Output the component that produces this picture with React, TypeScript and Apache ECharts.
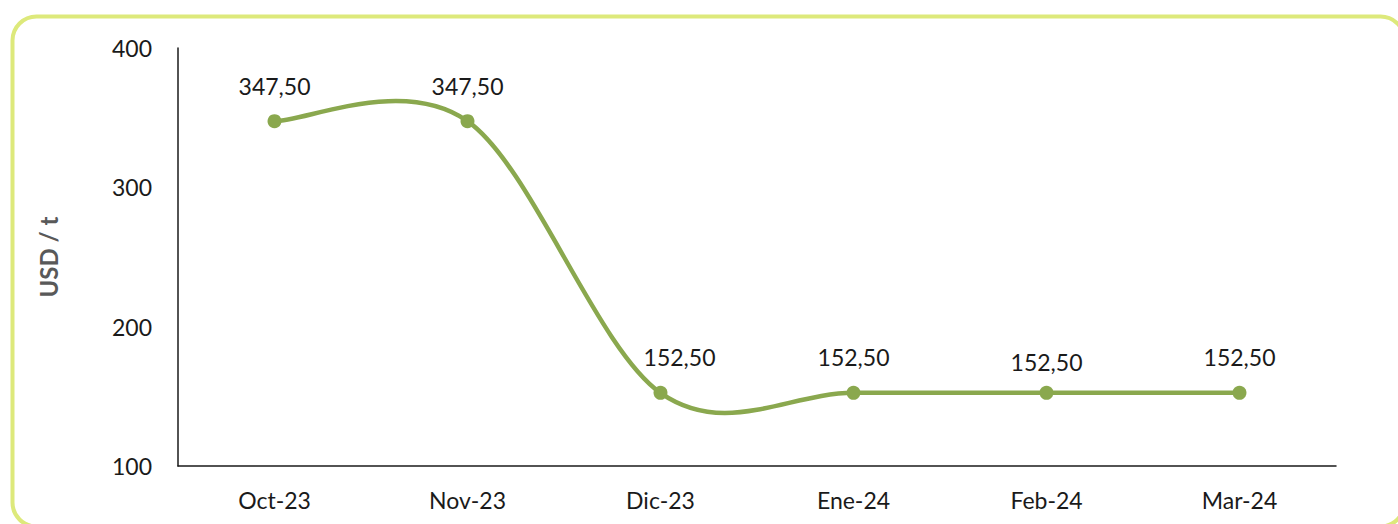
import React, { useEffect, useRef } from "react";
import * as echarts from "echarts";

const categories = ["Oct-23", "Nov-23", "Dic-23", "Ene-24", "Feb-24", "Mar-24"];
const prices = [347.5, 347.5, 152.5, 152.5, 152.5, 152.5];
const yTicks = { min: 100, max: 400, interval: 100 };

const LINE_COLOR = "#8aa84e";

export default function App() {
  const ref = useRef<HTMLDivElement>(null);
  useEffect(() => {
    if (!ref.current) return;
    const chart = echarts.init(ref.current, undefined, { renderer: "svg" });
    const n = prices.length;
    const labelOffsets: Record<number, number[]> = { 2: [19, 0], 4: [0, 5] };
    chart.setOption({
      animation: false,
      textStyle: { fontFamily: "Lato" },
      graphic: [
        {
          type: "rect",
          shape: { x: 12.5, y: 16.5, width: 1392, height: 510, r: 24 },
          style: { fill: "none", stroke: "#dde97b", lineWidth: 4 },
          silent: true,
        },
      ],
      grid: { left: 178, right: 62, top: 48, bottom: 58 },
      xAxis: {
        type: "category",
        data: categories,
        boundaryGap: true,
        axisLine: { lineStyle: { color: "#1a1a1a", width: 1.5 } },
        axisTick: { show: false },
        axisLabel: { color: "#1a1a1a", fontSize: 23, margin: 22, fontFamily: "Lato" },
      },
      yAxis: {
        type: "value",
        min: yTicks.min,
        max: yTicks.max,
        interval: yTicks.interval,
        name: "USD / t",
        nameLocation: "middle",
        nameGap: 118,
        nameTextStyle: { color: "#595959", fontSize: 24, fontWeight: "bold", fontFamily: "Lato" },
        axisLine: { show: true, lineStyle: { color: "#1a1a1a", width: 1.5 } },
        axisTick: { show: false },
        splitLine: { show: false },
        axisLabel: { color: "#1a1a1a", fontSize: 23, margin: 26, fontFamily: "Lato" },
      },
      series: [
        {
          type: "custom",
          data: prices.map((v, i) => [i, v]),
          silent: true,
          z: 2,
          renderItem: (params: any, api: any) => {
            const i = params.dataIndex;
            if (i >= n - 1) return null;
            const pt = (j: number) => {
              const k = Math.max(0, Math.min(n - 1, j));
              return api.coord([k, prices[k]]);
            };
            const p0 = pt(i - 1);
            const p1 = pt(i);
            const p2 = pt(i + 1);
            const p3 = pt(i + 2);
            const t = 1 / 6;
            return {
              type: "bezierCurve",
              shape: {
                x1: p1[0],
                y1: p1[1],
                cpx1: p1[0] + (p2[0] - p0[0]) * t,
                cpy1: p1[1] + (p2[1] - p0[1]) * t,
                cpx2: p2[0] - (p3[0] - p1[0]) * t,
                cpy2: p2[1] - (p3[1] - p1[1]) * t,
                x2: p2[0],
                y2: p2[1],
              },
              style: { stroke: LINE_COLOR, lineWidth: 4.5, fill: "none", lineCap: "round" },
            };
          },
        },
        {
          type: "line",
          data: prices.map((v, i) =>
            labelOffsets[i] ? { value: v, label: { offset: labelOffsets[i] } } : v
          ),
          z: 3,
          symbol: "circle",
          symbolSize: 14,
          itemStyle: { color: LINE_COLOR },
          lineStyle: { width: 0, opacity: 0 },
          label: {
            show: true,
            position: "top",
            distance: 17,
            color: "#1a1a1a",
            fontSize: 23,
            fontFamily: "Lato",
            formatter: (p: any) => Number(p.value).toFixed(2).replace(".", ","),
          },
        },
      ],
    });
    return () => chart.dispose();
  }, []);
  return (
    <div
      ref={ref}
      style={{ position: "fixed", left: 0, top: 0, width: 1398, height: 524, background: "#fff" }}
    />
  );
}
